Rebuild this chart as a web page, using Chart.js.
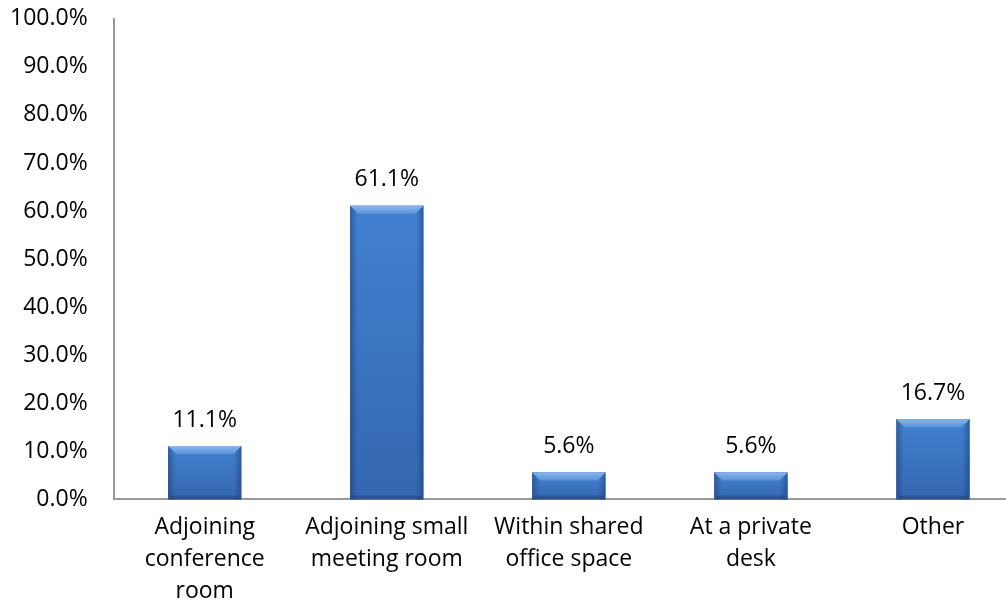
<!DOCTYPE html>
<html>
<head>
<meta charset="utf-8">
<script src="https://cdn.jsdelivr.net/npm/chart.js@4/dist/chart.umd.min.js"></script>
<style>
  html, body { margin: 0; padding: 0; background: #fff; overflow: hidden; }
  #wrap { width: 1040px; height: 641px; position: absolute; left: -16px; top: -21px; }
</style>
</head>
<body>
<div id="wrap"><canvas id="chart"></canvas></div>
<script>
const categories = [
    ['Adjoining', 'conference', 'room'],
    ['Adjoining small', 'meeting room'],
    ['Within shared', 'office space'],
    ['At a private', 'desk'],
    'Other',
]
const percentages = [11.1, 61.1, 5.6, 5.6, 16.7]
const yTicks = [0, 10, 20, 30, 40, 50, 60, 70, 80, 90, 100]

const FONT = '"Open Sans", sans-serif'

// bevelled bars + value labels
const bevelPlugin = {
    id: 'bevel',
    afterDatasetsDraw(chart) {
        const ctx = chart.ctx
        const meta = chart.getDatasetMeta(0)
        meta.data.forEach((bar, i) => {
            const left = bar.x - bar.width / 2
            const right = bar.x + bar.width / 2
            const top = bar.y
            const bottom = bar.base
            const b = Math.min(8, (bottom - top) / 2)
            ctx.save()
            // body gradient
            let vg = ctx.createLinearGradient(0, top, 0, bottom)
            vg.addColorStop(0, '#4281d0')
            vg.addColorStop(1, '#3566b1')
            ctx.fillStyle = vg
            ctx.fillRect(left, top, right - left, bottom - top)
            // side shading
            let g = ctx.createLinearGradient(left, 0, right, 0)
            g.addColorStop(0, 'rgba(20,50,100,0.45)')
            g.addColorStop(0.1, 'rgba(20,50,100,0)')
            g.addColorStop(0.9, 'rgba(20,50,100,0)')
            g.addColorStop(1, 'rgba(20,50,100,0.45)')
            ctx.fillStyle = g
            ctx.fillRect(left, top, right - left, bottom - top)
            // top bevel
            ctx.beginPath()
            ctx.moveTo(left, top)
            ctx.lineTo(right, top)
            ctx.lineTo(right - b, top + b)
            ctx.lineTo(left + b, top + b)
            ctx.closePath()
            let tg = ctx.createLinearGradient(0, top, 0, top + b)
            tg.addColorStop(0, '#8ab6ec')
            tg.addColorStop(1, '#5a92da')
            ctx.fillStyle = tg
            ctx.fill()
            // bottom bevel
            ctx.beginPath()
            ctx.moveTo(left, bottom)
            ctx.lineTo(right, bottom)
            ctx.lineTo(right - b / 2, bottom - b / 2)
            ctx.lineTo(left + b / 2, bottom - b / 2)
            ctx.closePath()
            ctx.fillStyle = 'rgba(25,50,90,0.35)'
            ctx.fill()
            // label
            ctx.fillStyle = '#000'
            ctx.font = '23px ' + FONT
            ctx.textAlign = 'center'
            ctx.textBaseline = 'middle'
            ctx.fillText(percentages[i].toFixed(1) + '%', bar.x, top - 26)
            ctx.restore()
        })
    },
}

new Chart(document.getElementById('chart').getContext('2d'), {
    type: 'bar',
    data: {
        labels: categories,
        datasets: [
            {
                data: percentages,
                backgroundColor: '#3c75c2',
                borderWidth: 0,
                barPercentage: 1,
                categoryPercentage: 0.402,
            },
        ],
    },
    options: {
        responsive: true,
        maintainAspectRatio: false,
        animation: false,
        layout: { padding: 0 },
        plugins: {
            legend: { display: false },
            tooltip: { enabled: false },
        },
        scales: {
            y: {
                min: 0,
                max: 100,
                afterBuildTicks: (axis) => {
                    axis.ticks = yTicks.map((v) => ({ value: v }))
                },
                ticks: {
                    callback: (v) => v.toFixed(1) + '%',
                    color: '#000',
                    font: { family: FONT, size: 23 },
                    padding: 26,
                },
                grid: { display: false, drawTicks: false },
                border: { color: '#999', width: 2 },
            },
            x: {
                ticks: {
                    color: '#000',
                    font: { family: FONT, size: 23, lineHeight: 1.4 },
                    padding: 12,
                    maxRotation: 0,
                    autoSkip: false,
                },
                grid: { display: false, drawTicks: false },
                border: { color: '#999', width: 2 },
            },
        },
    },
    plugins: [bevelPlugin],
})
</script>
</body>
</html>
